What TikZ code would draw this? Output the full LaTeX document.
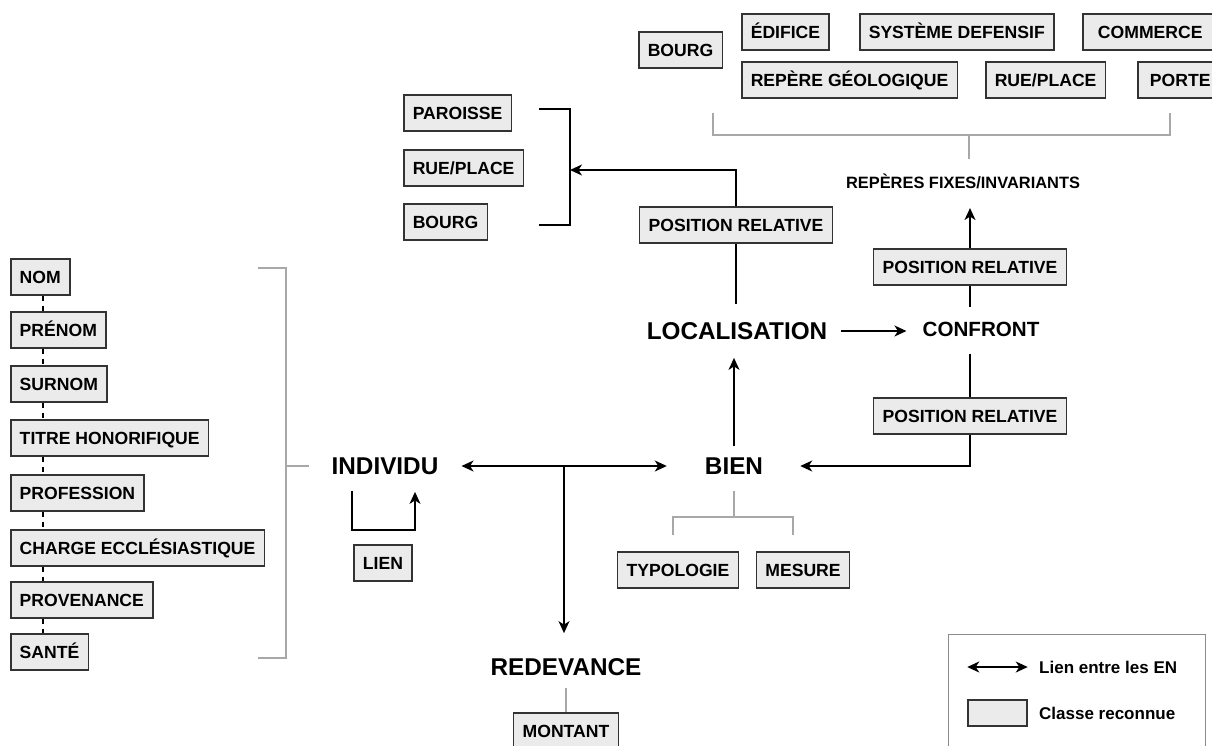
\documentclass[tikz,border=0pt]{standalone}
\usepackage{fontspec}
\setmainfont{Liberation Sans}
\usetikzlibrary{arrows.meta,positioning,calc}
\definecolor{clsfill}{HTML}{EBEBEB}
\definecolor{clsedge}{HTML}{333333}
\definecolor{grpgrey}{HTML}{A8A8A8}
\definecolor{leggrey}{HTML}{8C8C8C}
\tikzset{
  cls/.style    = {draw=clsedge, line width=1.5pt, fill=clsfill, minimum height=36pt,
                   inner xsep=9pt, inner ysep=0pt, text height=12.6pt, text depth=0pt,
                   font=\bfseries\fontsize{17.6}{20}\selectfont},
  ent/.style    = {inner sep=0pt, text height=17.4pt, text depth=0pt,
                   font=\bfseries\fontsize{24.3}{28}\selectfont},
  subent/.style = {inner sep=0pt, text height=14.7pt, text depth=0pt,
                   font=\bfseries\fontsize{20.6}{24}\selectfont},
  fixe/.style   = {inner sep=0pt, text height=11.7pt, text depth=0pt,
                   font=\bfseries\fontsize{16.4}{19}\selectfont},
  legtxt/.style = {anchor=west, inner sep=0pt, text height=12.2pt, text depth=0pt,
                   font=\bfseries\fontsize{17}{20}\selectfont},
  lnk/.style    = {-{Stealth[length=12pt,width=11pt,inset=3.5pt]}, line width=1.5pt},
  lnkboth/.style= {{Stealth[length=12pt,width=11pt,inset=3.5pt]}-{Stealth[length=12pt,width=11pt,inset=3.5pt]}, line width=1.5pt},
  wire/.style   = {line width=1.5pt},
  grp/.style    = {draw=grpgrey, line width=1.5pt},
  dsh/.style    = {line width=1.2pt, dash pattern=on 5pt off 5pt},
}

\begin{document}
\begin{tikzpicture}[x=1pt,y=-1pt]
  \useasboundingbox (0,0) rectangle (1212,745);

  % attributs de l'individu (colonne de gauche)
  \node[cls, anchor=west] (nom)    at (10,277) {NOM};
  \node[cls, anchor=west] (prenom) at (10,330) {PRÉNOM};
  \node[cls, anchor=west] (surnom) at (10,384) {SURNOM};
  \node[cls, anchor=west] (titre)  at (10,438) {TITRE HONORIFIQUE};
  \node[cls, anchor=west] (prof)   at (10,493) {PROFESSION};
  \node[cls, anchor=west] (charge) at (10,548) {CHARGE ECCLÉSIASTIQUE};
  \node[cls, anchor=west] (prov)   at (10,600) {PROVENANCE};
  \node[cls, anchor=west] (sante)  at (10,652) {SANTÉ};
  \draw[dsh] ([xshift=33pt]nom.south west)    -- ([xshift=33pt]prenom.north west);
  \draw[dsh] ([xshift=33pt]prenom.south west) -- ([xshift=33pt]surnom.north west);
  \draw[dsh] ([xshift=33pt]surnom.south west) -- ([xshift=33pt]titre.north west);
  \draw[dsh] ([xshift=33pt]titre.south west)  -- ([xshift=33pt]prof.north west);
  \draw[dsh] ([xshift=33pt]prof.south west)   -- ([xshift=33pt]charge.north west);
  \draw[dsh] ([xshift=33pt]charge.south west) -- ([xshift=33pt]prov.north west);
  \draw[dsh] ([xshift=33pt]prov.south west)   -- ([xshift=33pt]sante.north west);

  % entites nommees
  \node[ent] (individu)     at (385,466) {INDIVIDU};
  \node[ent] (bien)         at (734,466) {BIEN};
  \node[ent] (localisation) at (737,331) {LOCALISATION};
  \node[ent] (redevance)    at (566,667) {REDEVANCE};
  \node[subent] (confront)  at (981,329) {CONFRONT};
  \node[fixe] (reperes)     at (963,183) {REPÈRES FIXES/INVARIANTS};

  % accolade des attributs
  \coordinate (ltop) at (258,268);
  \coordinate (lbot) at (258,658);
  \coordinate (lmid) at (286,466);
  \draw[grp] (ltop) -| (lmid) |- (lbot);
  \draw[grp, shorten >=22pt] (lmid) -- (individu.west);

  % individu <-> bien, redevance
  \coordinate (fork) at (564,466);
  \draw[lnkboth, shorten <=23pt, shorten >=38pt] (individu.east) -- (bien.west);
  \draw[lnk, shorten >=25pt] (fork) -- (fork |- redevance.north);
  \node[cls] (montant) at (566,731) {MONTANT};
  \draw[grp, shorten >=12pt] (montant.north) -- (redevance.south);

  % lien entre individus
  \node[cls] (lien) at (383,563) {LIEN};
  \draw[lnk] ([xshift=-33pt,yshift=-16pt]individu.south) -- ++(0,39)
    -| ([xshift=30pt,yshift=-17pt]individu.south);

  % bien : typologie, mesure
  \node[cls] (typo)   at (678,570) {TYPOLOGIE};
  \node[cls] (mesure) at (803,570) {MESURE};
  \coordinate (bmid) at (733,517);
  \draw[grp, shorten <=16pt] (bien.south) -- (bien.south |- bmid);
  \draw[grp] ([xshift=-5pt,yshift=16pt]typo.north) |- (bmid)
    -| ([xshift=-10pt,yshift=16pt]mesure.north);

  % localisation
  \draw[lnk, shorten <=11pt, shorten >=18pt] (bien.north) -- (bien.north |- localisation.south);
  \draw[lnk, shorten <=14pt, shorten >=16pt] (localisation.east) -- (localisation.east -| confront.west);
  \node[cls] (posrelA) at (736,225) {POSITION RELATIVE};
  \draw[wire, shorten >=18pt] (posrelA.south) -- (posrelA.south |- localisation.north);
  \node[cls, anchor=west] (paroisse) at (403,113) {PAROISSE};
  \node[cls, anchor=west] (rueA)     at (403,168) {RUE/PLACE};
  \node[cls, anchor=west] (bourgA)   at (403,222) {BOURG};
  \coordinate (btop) at (539,109);
  \coordinate (bbot) at (539,225);
  \coordinate (brk)  at (570,170);
  \draw[wire] (btop) -| (brk) |- (bbot);
  \draw[lnk] (posrelA.north) |- (brk);

  % confront
  \node[cls] (posrelB) at (970,267) {POSITION RELATIVE};
  \node[cls] (posrelC) at (970,416) {POSITION RELATIVE};
  \draw[wire, shorten >=14pt] (posrelB.south) -- (posrelB.south |- confront.north);
  \draw[lnk, shorten >=19pt] (posrelB.north) -- (posrelB.north |- reperes.south);
  \draw[wire, shorten <=17pt] (posrelC.north |- confront.south) -- (posrelC.north);
  \draw[lnk, shorten >=37pt] (posrelC.south) |- (bien.east);

  % reperes fixes
  \node[cls, anchor=west] (bourgB)   at (638,50) {BOURG};
  \node[cls, anchor=west] (edifice)  at (741,32) {ÉDIFICE};
  \node[cls, anchor=west] (systeme)  at (859,32) {SYSTÈME DEFENSIF};
  \node[cls, anchor=west, minimum width=135pt] (commerce) at (1082,32) {COMMERCE};
  \node[cls, anchor=west] (geolo)    at (741,80) {REPÈRE GÉOLOGIQUE};
  \node[cls, anchor=west] (rueB)     at (985,80) {RUE/PLACE};
  \node[cls, anchor=west, minimum width=85pt] (porte) at (1137,80) {PORTE};
  \coordinate (ttl)  at (713,113);
  \coordinate (ttr)  at (1170,113);
  \coordinate (tmid) at (969,135);
  \draw[grp] (ttl) |- (tmid) -| (ttr);
  \draw[grp, shorten >=18pt] (tmid) -- (tmid |- reperes.north);

  % legende
  \node[draw=leggrey, line width=1.2pt, anchor=north west, minimum width=257pt,
        minimum height=140pt] (legend) at (948,634) {};
  \node[legtxt] (leglien)   at (1039,667) {Lien entre les EN};
  \node[cls, minimum width=59pt, minimum height=26pt] (legcls) at (997.5,713) {};
  \node[legtxt] (legclasse) at (1039,713) {Classe reconnue};
  \draw[lnkboth] (legcls.west |- leglien.west) -- (legcls.east |- leglien.west);
\end{tikzpicture}
\end{document}
